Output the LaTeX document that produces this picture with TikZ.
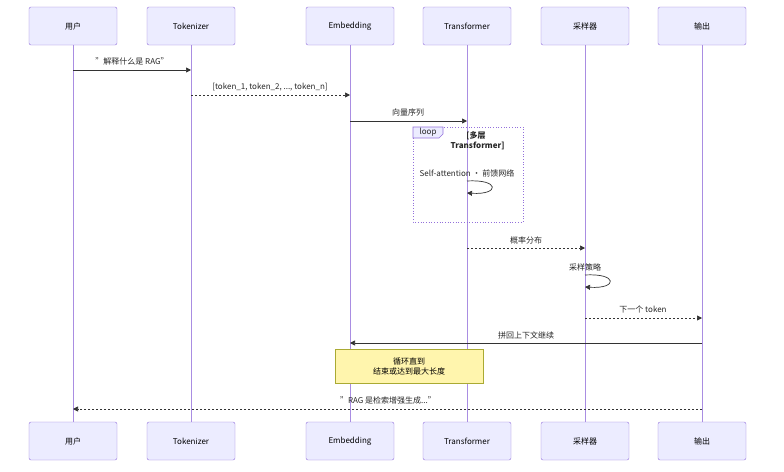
\documentclass[tikz,border=0pt]{standalone}
\usepackage{fontspec}
\setmainfont{Noto Sans CJK SC}
\usetikzlibrary{arrows.meta}
\definecolor{actf}{HTML}{ECECFF}
\definecolor{acts}{HTML}{9370DB}
\definecolor{notef}{HTML}{FFF5AD}
\definecolor{notes}{HTML}{AAAA33}
\begin{document}
\begin{tikzpicture}[x=1pt,y=-1pt,font=\fontsize{8}{10}\selectfont,
  actor/.style={draw=acts,fill=actf,minimum width=88pt,minimum height=38pt,rounded corners=2pt,inner sep=0pt},
  life/.style={draw=acts!80,line width=0.8pt},
  msg/.style={draw=black!80,line width=0.7pt,-{Triangle[length=5pt,width=5pt]}},
  dmsg/.style={msg,dash pattern=on 2pt off 2pt},
  lbl/.style={text=black!85,inner sep=1pt}]
\useasboundingbox (0,0) rectangle (784,471);
\foreach \n/\x/\t in {u/73/用户,t/191/Tokenizer,e/350/Embedding,f/467/Transformer,s/585/采样器,o/702/输出}{
  \node[actor] (\n1) at (\x,26) {\t};
  \node[actor] (\n2) at (\x,441) {\t};
  \draw[life] (\n1.south) -- (\n2.north);
}
% loop box
\draw[acts,dotted,line width=0.7pt] (413,127) rectangle (523,222);
\draw[acts,fill=actf,line width=0.6pt] (413,127) -- (443,127) -- (443,134) -- (439,138) -- (413,138) -- cycle;
\node[lbl] at (428,132.5) {loop};
\node[lbl,align=center,font=\fontsize{8}{10}\selectfont\bfseries] at (476,141) {[多层\\\hphantom{[}Transformer]};
% messages
\coordinate (a1) at (73,70); \coordinate (b1) at (191,70);
\draw[msg] (a1) -- (b1); \node[lbl] at (132,61) {"解释什么是 RAG"};
\coordinate (a2) at (191,95); \coordinate (b2) at (350,95);
\draw[dmsg] (a2) -- (b2); \node[lbl] at (270,87) {[token\_1, token\_2, ..., token\_n]};
\coordinate (a3) at (350,121); \coordinate (b3) at (467,121);
\draw[msg] (a3) -- (b3); \node[lbl] at (408,112) {向量序列};
\coordinate (a4) at (467,181); \coordinate (b4) at (467,193);
\node[lbl] at (467,173) {Self-attention • 前馈网络};
\draw[msg] (a4) .. controls (500,179) and (500,195) .. (b4);
\coordinate (a5) at (467,248); \coordinate (b5) at (585,248);
\draw[dmsg] (a5) -- (b5); \node[lbl] at (526,240) {概率分布};
\coordinate (a6) at (585,275); \coordinate (b6) at (585,287);
\node[lbl] at (585,267) {采样策略};
\draw[msg] (a6) .. controls (618,273) and (618,289) .. (b6);
\coordinate (a7) at (585,318); \coordinate (b7) at (702,318);
\draw[dmsg] (a7) -- (b7); \node[lbl] at (643,309) {下一个 token};
\coordinate (a8) at (702,343); \coordinate (b8) at (350,343);
\draw[msg] (a8) -- (b8); \node[lbl] at (526,335) {拼回上下文继续};
\node[draw=notes,fill=notef,minimum width=148pt,minimum height=34pt,align=center,inner sep=0pt] (nt) at (409,366) {循环直到\\结束或达到最大长度};
\coordinate (a9) at (702,409); \coordinate (b9) at (73,409);
\draw[dmsg] (a9) -- (b9); \node[lbl] at (388,400) {"RAG 是检索增强生成..."};
\end{tikzpicture}
\end{document}
